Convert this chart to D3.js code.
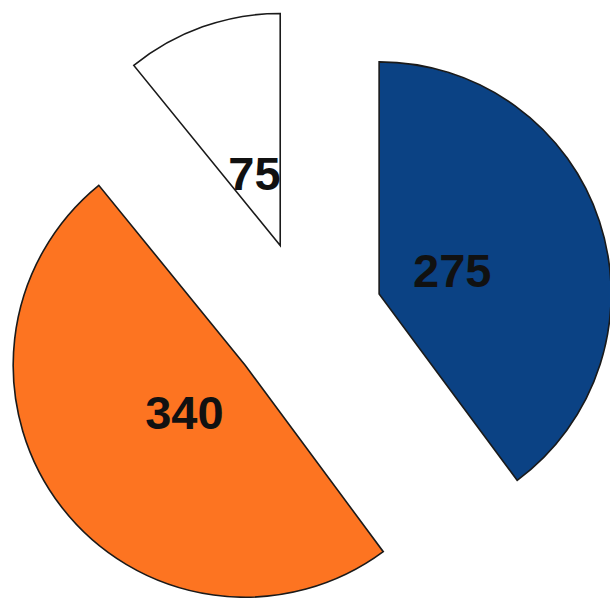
<!DOCTYPE html>
<html>
<head>
<meta charset="utf-8">
<script src="https://cdn.jsdelivr.net/npm/d3@7"></script>
<style>
  html, body { margin: 0; padding: 0; background: #ffffff; }
  svg { display: block; }
</style>
</head>
<body>
<svg id="chart" width="610" height="598"></svg>
<script>
// Data
const categories = ["A", "B", "C"];
const values = [275, 340, 75];
const labels = ["275", "340", "75"];
const colors = ["#0B4284", "#FD7421", "#FFFFFF"];

const W = 610, H = 598;
const cx = 306, cy = 318;
const radius = 232;
const explode = 77;
const labelOffset = 77;

const svg = d3.select("#chart");

const pie = d3.pie().sort(null).value(d => d.value).startAngle(0).endAngle(2 * Math.PI);
const data = pie(categories.map((c, i) => ({ cat: c, value: values[i], label: labels[i], color: colors[i] })));

const arc = d3.arc().innerRadius(0).outerRadius(radius);

const g = svg.append("g").attr("transform", `translate(${cx},${cy})`);

const slices = g.selectAll("g.slice").data(data).join("g")
  .attr("class", "slice")
  .attr("transform", d => {
    const mid = (d.startAngle + d.endAngle) / 2;
    return `translate(${explode * Math.sin(mid)},${-explode * Math.cos(mid)})`;
  });

slices.append("path")
  .attr("d", arc)
  .attr("fill", d => d.data.color)
  .attr("stroke", "#1a1a1a")
  .attr("stroke-width", 1.6)
  .attr("stroke-linejoin", "miter");

slices.append("text")
  .attr("x", d => labelOffset * Math.sin((d.startAngle + d.endAngle) / 2))
  .attr("y", d => -labelOffset * Math.cos((d.startAngle + d.endAngle) / 2))
  .attr("dy", "0.36em")
  .attr("text-anchor", "middle")
  .attr("font-family", "'Liberation Sans', Arial, sans-serif")
  .attr("font-weight", "bold")
  .attr("font-size", 47)
  .attr("fill", "#111111")
  .text(d => d.data.label);
</script>
</body>
</html>
